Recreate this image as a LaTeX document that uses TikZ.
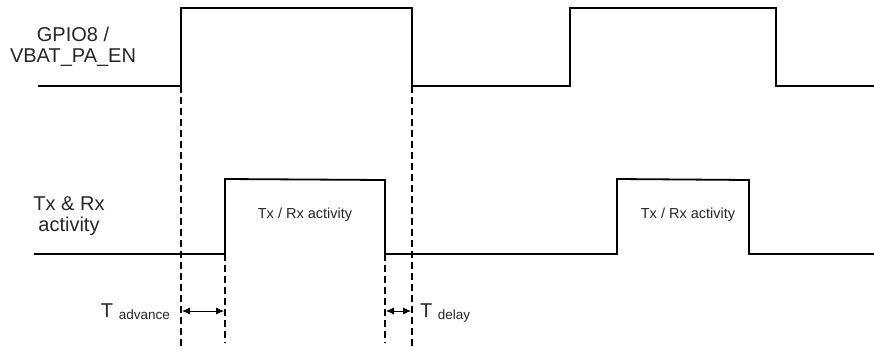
\documentclass[tikz,border=0pt]{standalone}
\usepackage{fontspec}
\setmainfont{Liberation Sans}
\usetikzlibrary{arrows.meta,positioning}

\begin{document}
\begin{tikzpicture}[
  x=1pt, y=-1pt,
  signal/.style={line width=1.8pt, black, line join=miter},
  marker/.style={line width=1.8pt, dash pattern=on 7pt off 4pt},
  span/.style={{Latex[length=8pt,width=7pt]}-{Latex[length=8pt,width=7pt]}, line width=0.8pt},
  siglabel/.style={font=\fontsize{20}{21}\selectfont, align=center, inner sep=0pt, text=black!85},
  actlabel/.style={font=\fontsize{14.5}{16}\selectfont, inner sep=0pt, text=black!85},
  timelabel/.style={font=\fontsize{20}{22}\selectfont, inner sep=0pt, text=black!85}
]
  \useasboundingbox (0,0) rectangle (874,348);
  % edges of the enable signal and of the activity
  \coordinate (enrise) at (181,86);
  \coordinate (enfall) at (412,86);
  \coordinate (actrise) at (225,254);
  \coordinate (actfall) at (385,254);
  % signal names
  \node[siglabel, anchor=north] (gpio) at (73,27) {GPIO8 /\\VBAT\_PA\_EN};
  \node[siglabel, anchor=north] (txrx) at (69,196) {Tx \& Rx\\activity};
  % GPIO8 / VBAT_PA_EN waveform
  \draw[signal] (38,86) -- (enrise) -- (181,8) -- (412,8) -- (enfall) -- (570,86) -- (570,8) -- (776,8) -- (776,86) -- (874,86);
  % Tx & Rx activity waveform
  \draw[signal] (34,254) -- (actrise) -- (225,179) -- (385,180) -- (actfall) -- (617,254) -- (617,179) -- (749,180) -- (749,254) -- (874,254);
  \node[actlabel, anchor=base] (burst1) at (305,218) {Tx / Rx activity};
  \node[actlabel, anchor=base] (burst2) at (688,218) {Tx / Rx activity};
  % timing markers
  \coordinate (enriseend) at (181,348);
  \coordinate (enfallend) at (412,348);
  \coordinate (actriseend) at (225,343);
  \coordinate (actfallend) at (385,343);
  \draw[marker] (enrise) -- (enriseend);
  \draw[marker] (enfall) -- (enfallend);
  \draw[marker] (actrise) -- (actriseend);
  \draw[marker] (actfall) -- (actfallend);
  \coordinate (advL) at (182,311);
  \coordinate (advR) at (224,311);
  \coordinate (dlyL) at (386,311);
  \coordinate (dlyR) at (411,311);
  \draw[span] (advL) -- (advR);
  \draw[span] (dlyL) -- (dlyR);
  \node[timelabel, anchor=base east] (tadv) at (170,317) {T \raisebox{-2pt}{\fontsize{13.5}{15}\selectfont advance}};
  \node[timelabel, anchor=base west] (tdly) at (420,317) {T \raisebox{-2pt}{\fontsize{13.5}{15}\selectfont delay}};
\end{tikzpicture}
\end{document}
